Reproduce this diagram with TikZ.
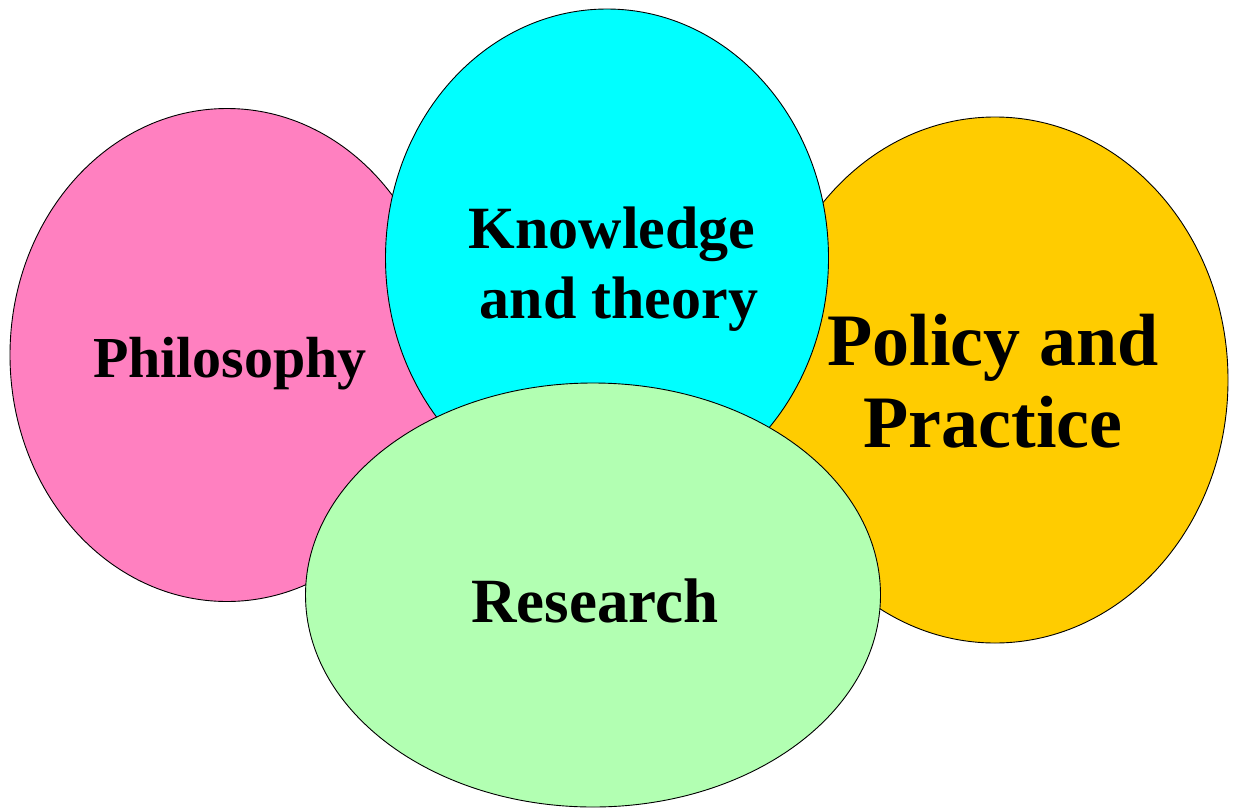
\documentclass[tikz,border=0pt]{standalone}
\usepackage{fontspec}
\setmainfont{Liberation Serif}
\usetikzlibrary{shapes.geometric}
\definecolor{philpink}{HTML}{FF80C0}
\definecolor{knowcyan}{HTML}{00FFFF}
\definecolor{polgold}{HTML}{FFCC00}
\definecolor{resgreen}{HTML}{B2FFB2}
\tikzset{
  blob/.style={ellipse, draw=black, line width=0.9pt, inner sep=0pt},
  label58/.style={anchor=base, inner sep=0pt, font=\bfseries\fontsize{58}{68}\selectfont},
  label60/.style={anchor=base, inner sep=0pt, font=\bfseries\fontsize{60}{70}\selectfont},
  label63/.style={anchor=base, inner sep=0pt, font=\bfseries\fontsize{63}{73}\selectfont},
  label74/.style={anchor=base, inner sep=0pt, font=\bfseries\fontsize{74}{82}\selectfont},
}
\begin{document}
\begin{tikzpicture}[x=1pt, y=-1pt]
  \useasboundingbox (0,0) rectangle (1236,808);
  % the four overlapping areas, back to front
  \node[blob, fill=philpink, minimum width=434pt, minimum height=493pt] (phil) at (227,355) {};
  \node[blob, fill=polgold, minimum width=466pt, minimum height=526pt] (pol) at (995,380) {};
  \node[blob, fill=knowcyan, minimum width=443pt, minimum height=498pt] (know) at (607,258) {};
  \node[blob, fill=resgreen, minimum width=575pt, minimum height=424pt] (res) at (593,595) {};
  % labels
  \node[label58] (philtxt) at (230,377) {Philosophy};
  \node[label60] (knowtxt1) at (612,248) {Knowledge};
  \node[label60] (knowtxt2) at (619,318) {and theory};
  \node[label74] (poltxt1) at (993,365) {Policy and};
  \node[label74] (poltxt2) at (993,447) {Practice};
  \node[label63] (restxt) at (595,622) {Research};
\end{tikzpicture}
\end{document}
